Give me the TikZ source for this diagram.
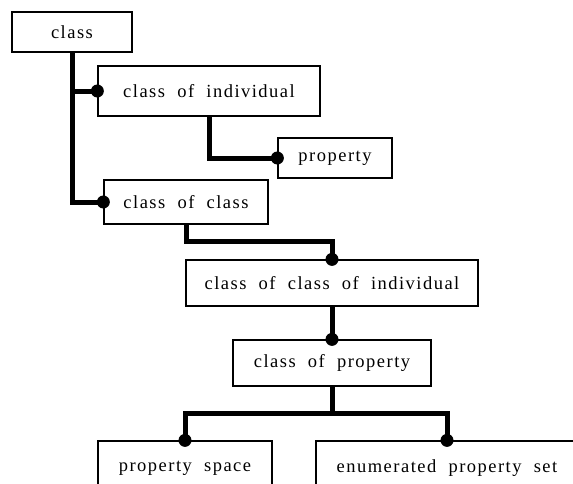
\documentclass[tikz,border=0pt]{standalone}
\usepackage{fontspec}
\setmainfont{Liberation Serif}[LetterSpace=8,WordSpace=2]
\usepackage{tikz}
\usetikzlibrary{positioning,calc}

\tikzset{
  box/.style={draw, rectangle, line width=1.3pt, inner sep=0pt, align=center,
    font=\fontsize{18.5}{22}\selectfont},
  link/.style={line width=5pt},
  knob/.style={fill=black}
}

\begin{document}
\begin{tikzpicture}[x=1pt, y=-1pt]
  \clip (0,0) rectangle (573,483);
  \fill[white] (0,0) rectangle (573,483);

  \node[box, minimum width=120pt, minimum height=40pt] (class) at (72,32) {class};
  \node[box, minimum width=222pt, minimum height=50pt] (indiv) at (209,91) {class of individual};
  \node[box, minimum width=114pt, minimum height=40pt] (prop) at (335,158) {property};
  \node[box, minimum width=164pt, minimum height=44pt] (coc) at (186,202) {class of class};
  \node[box, minimum width=292pt, minimum height=46pt] (coci) at (332,283) {class of class of individual};
  \node[box, minimum width=198pt, minimum height=46pt] (cop) at (332,363) {class of property};
  \node[box, minimum width=174pt, minimum height=54pt] (pspace) at (185,468) {property space};
  \node[box, minimum width=262pt, minimum height=54pt] (eps) at (447,468) {enumerated property set};

  \draw[link] (class.south) |- (indiv.west);
  \draw[link] (class.south) |- (coc.west);
  \draw[link] (indiv.south) |- (prop.west);
  \draw[link] (coc.south) -- ++(0,17) -| (coci.north);
  \draw[link] (coci.south) -- (cop.north);
  \draw[link] (cop.south) -- ++(0,27) -| (pspace.north);
  \draw[link] (cop.south) -- ++(0,27) -| (eps.north);

  % joints
  \fill[knob] (indiv.west) circle (6.5);
  \fill[knob] (coc.west) circle (6.5);
  \fill[knob] (prop.west) circle (6.5);
  \fill[knob] (coci.north) circle (6.5);
  \fill[knob] (cop.north) circle (6.5);
  \fill[knob] (pspace.north) circle (6.5);
  \fill[knob] (eps.north) circle (6.5);
\end{tikzpicture}
\end{document}
